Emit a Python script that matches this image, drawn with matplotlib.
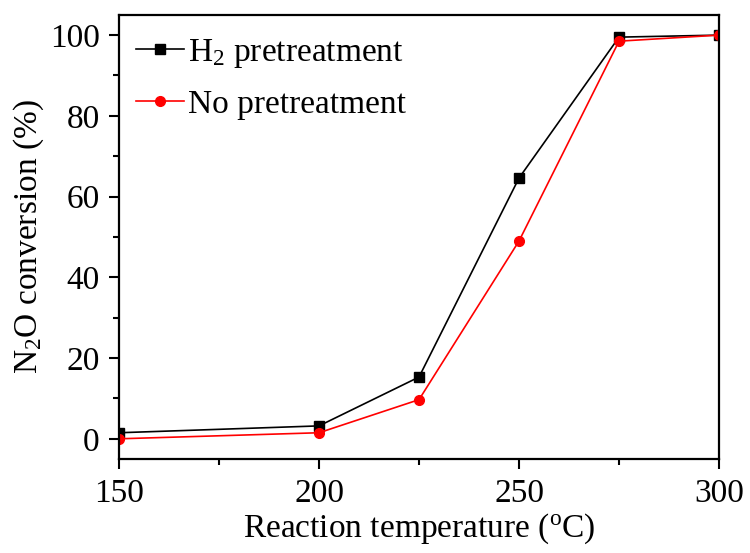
import matplotlib
matplotlib.use("Agg")
import matplotlib.pyplot as plt
from matplotlib.ticker import MultipleLocator

plt.rcParams['font.family'] = ['Liberation Serif', 'DejaVu Serif']
plt.rcParams['mathtext.fontset'] = 'custom'
plt.rcParams['mathtext.rm'] = 'Liberation Serif'
plt.rcParams['mathtext.it'] = 'Liberation Serif:italic'

# conversion vs temperature
temperature = [150, 200, 225, 250, 275, 300]
h2_pretreat = [1.5, 3.2, 15.3, 64.6, 99.5, 100.0]
no_pretreat = [0.0, 1.5, 9.7, 49.0, 98.5, 100.0]

fig = plt.figure(figsize=(7.5, 5.53), dpi=100)
ax = fig.add_axes([0.1587, 0.17, 0.8, 0.803])

ax.plot(temperature, h2_pretreat, color='black', lw=1.2, marker='s', ms=7,
        label=r'H$_2$ pretreatment')
ax.plot(temperature, no_pretreat, color='red', lw=1.2, marker='o', ms=7,
        label='No pretreatment')

ax.set_xlim(150, 300)
ax.set_ylim(-5, 105)
ax.xaxis.set_major_locator(MultipleLocator(50))
ax.xaxis.set_minor_locator(MultipleLocator(25))
ax.yaxis.set_major_locator(MultipleLocator(20))
ax.yaxis.set_minor_locator(MultipleLocator(10))

for s in ax.spines.values():
    s.set_linewidth(1.6)
ax.tick_params(which='major', direction='out', length=7.5, width=1.5,
               labelsize=24, pad=6.5)
ax.tick_params(which='minor', direction='out', length=4.5, width=1.5)

ax.set_xlabel(r'Reaction temperature ($^{\rm o}$C)', fontsize=24, labelpad=2)
ax.set_ylabel(r'N$_2$O conversion (%)', fontsize=24, labelpad=3)

ax.legend(loc='upper left', bbox_to_anchor=(0.0, 0.989), frameon=False,
          fontsize=24, handlelength=1.42, handletextpad=0.12,
          borderaxespad=0.12, labelspacing=0.57)

fig.savefig('out.png', dpi=100)
